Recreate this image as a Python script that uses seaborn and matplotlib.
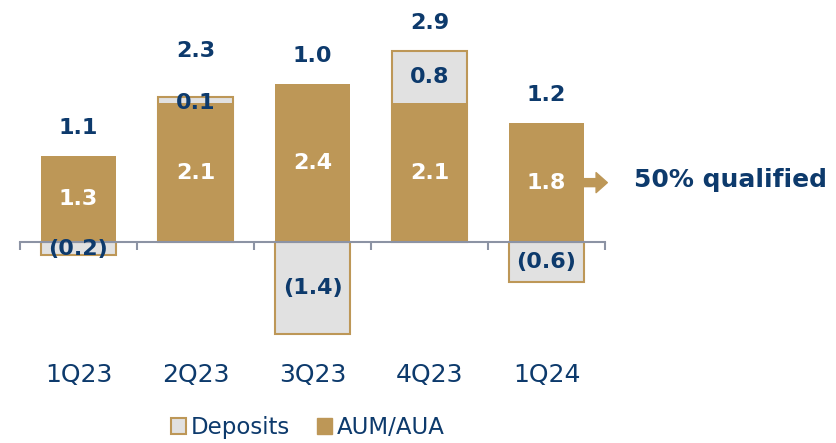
import numpy as np
import matplotlib
matplotlib.use("Agg")
import matplotlib.pyplot as plt
from matplotlib.patches import Patch
import seaborn as sns

quarters = ["1Q23", "2Q23", "3Q23", "4Q23", "1Q24"]
aum = [1.3, 2.1, 2.4, 2.1, 1.8]
deposits = [-0.2, 0.1, -1.4, 0.8, -0.6]
totals = [1.1, 2.3, 1.0, 2.9, 1.2]
note = "50% qualified"

GOLD = "#BD9757"
GREY = "#E1E1E1"
NAVY = "#0D3A6C"
AXIS = "#8C93A4"

sns.set_theme(style="white")
plt.rcParams["font.family"] = ["DejaVu Sans"]

fig = plt.figure(figsize=(8.37, 4.43), dpi=100)
ax = fig.add_axes([20 / 837, 98 / 443, 585 / 837, 325 / 443])

aum_a = np.array(aum)
dep_a = np.array(deposits)
# grey bar spans the deposit part; gold AUM bar is drawn on top of it
dep_span = np.where(dep_a > 0, aum_a + dep_a, dep_a)

sns.barplot(x=quarters, y=dep_span, order=quarters, color=GREY, edgecolor=GOLD,
            linewidth=1.5, width=0.64, saturation=1, ax=ax)
sns.barplot(x=quarters, y=aum_a, order=quarters, color=GOLD, linewidth=0,
            width=0.64, saturation=1, ax=ax)

ax.set_ylim(-1.56, 3.364)
ax.set_xlim(-0.5, len(quarters) - 0.5)
ax.set_xlabel("")
ax.set_ylabel("")
ax.set_yticks([])
for s in ["top", "right", "left"]:
    ax.spines[s].set_visible(False)
ax.spines["bottom"].set_position(("data", 0))
ax.spines["bottom"].set_color(AXIS)
ax.spines["bottom"].set_linewidth(1.5)
ax.set_xticks(np.arange(-0.5, len(quarters)), minor=True)
ax.tick_params(axis="x", which="minor", direction="out", length=6, width=1.5,
               color=AXIS, bottom=True)
ax.tick_params(axis="x", which="major", length=0, pad=87, labelsize=18,
               labelcolor=NAVY)

for i in range(len(quarters)):
    a, d, t = aum_a[i], dep_a[i], totals[i]
    ax.text(i, a / 2, f"{a:.1f}", ha="center", va="center", color="white",
            fontsize=16, fontweight="bold")
    dtxt = f"{d:.1f}" if d >= 0 else f"({abs(d):.1f})"
    extra = 0
    if 0 < d < 0.3:
        dy = a
        extra = 13
    elif d > 0:
        dy = a + d / 2
    else:
        dy = d / 2
    ax.text(i, dy, dtxt, ha="center", va="center", color=NAVY,
            fontsize=16, fontweight="bold")
    top = a + max(d, 0)
    ax.annotate(f"{t:.1f}", xy=(i, top), xytext=(0, 20 + extra),
                textcoords="offset points", ha="center", va="center",
                color=NAVY, fontsize=16, fontweight="bold", annotation_clip=False)

# arrow + note on last bar
last = len(quarters) - 1
ax.annotate("", xy=(last + 0.52, aum_a[last] / 2), xytext=(last + 0.32, aum_a[last] / 2),
            arrowprops=dict(arrowstyle="simple,head_length=0.45,head_width=0.8,tail_width=0.32",
                            color=GOLD, mutation_scale=18, shrinkA=0, shrinkB=0),
            annotation_clip=False)
ax.text(last + 0.75, 0.94, note, ha="left", va="center", color=NAVY,
        fontsize=18, fontweight="bold", clip_on=False)

handles = [Patch(facecolor=GREY, edgecolor=GOLD, linewidth=1.5, label="Deposits"),
           Patch(facecolor=GOLD, edgecolor=GOLD, label="AUM/AUA")]
fig.legend(handles=handles, loc="center", bbox_to_anchor=(0.368, 0.035), ncol=2,
           frameon=False, fontsize=16.5, labelcolor=NAVY, handlelength=0.65,
           handleheight=0.65, handletextpad=0.2, columnspacing=1.2)

fig.savefig("out.png", dpi=100)
